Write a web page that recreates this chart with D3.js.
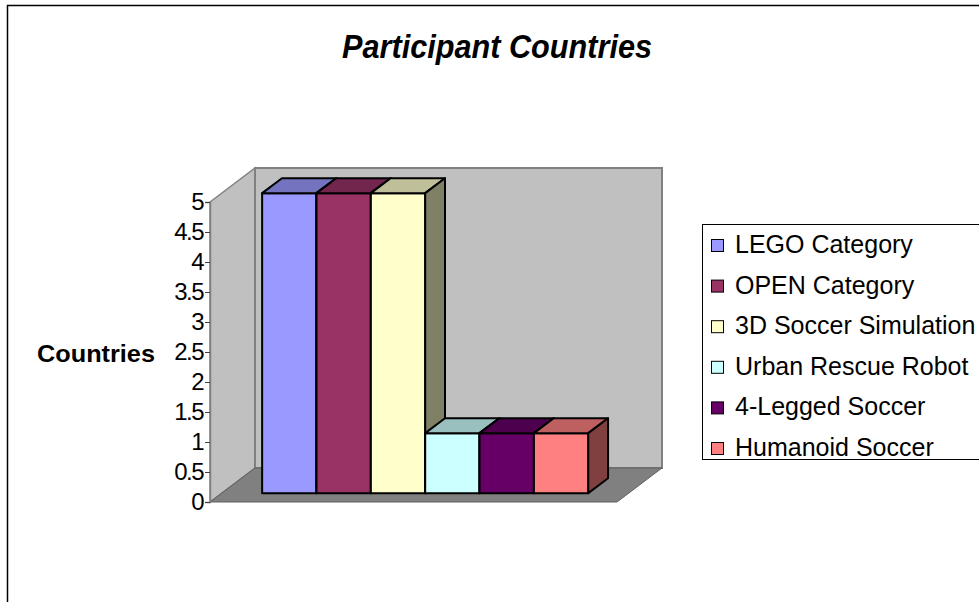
<!DOCTYPE html>
<html>
<head>
<meta charset="utf-8">
<script src="https://cdn.jsdelivr.net/npm/d3@7"></script>
<style>
  body { margin: 0; background: #fff; }
  text { font-family: "Liberation Sans", Arial, sans-serif; }
</style>
</head>
<body>
<div id="chart"></div>
<script>
var category = "Countries";
var seriesNames = ["LEGO Category", "OPEN Category", "3D Soccer Simulation",
                   "Urban Rescue Robot", "4-Legged Soccer", "Humanoid Soccer"];
var seriesValues = [5, 5, 5, 1, 1, 1];
var seriesColors = ["#9999FF", "#993366", "#FFFFCC", "#CCFFFF", "#660066", "#FF8080"];
var tickValues = [0, 0.5, 1, 1.5, 2, 2.5, 3, 3.5, 4, 4.5, 5];
var tickLabels = ["0", "0.5", "1", "1.5", "2", "2.5", "3", "3.5", "4", "4.5", "5"];

var width = 979, height = 602;

var svg = d3.select("#chart").append("svg")
    .attr("width", width)
    .attr("height", height);

// outer chart border
svg.append("rect")
    .attr("x", 7.5).attr("y", 5.5)
    .attr("width", 1000).attr("height", 700)
    .attr("fill", "#fff")
    .attr("stroke", "#000")
    .attr("stroke-width", 1.5);

svg.append("text")
    .attr("x", 497).attr("y", 58)
    .attr("text-anchor", "middle")
    .attr("font-size", 33)
    .attr("font-weight", "bold")
    .attr("font-style", "italic")
    .attr("textLength", 310)
    .attr("lengthAdjust", "spacingAndGlyphs")
    .text("Participant Countries");

// front plane scales, depth handled by offset
var plotLeft = 210, plotRight = 617;
var depthX = 45, depthY = -34;
var y = d3.scaleLinear().domain([0, 5]).range([502, 202]);
var x0 = d3.scaleBand().domain([category]).range([plotLeft, plotRight])
    .paddingInner(0).paddingOuter(0.124);
var x1 = d3.scaleBand().domain(seriesNames).range([0, x0.bandwidth()]);

function proj(px, py, f) {
  return [px + f * depthX, py + f * depthY];
}
function poly(pts) {
  return pts.map(function(p) { return p.join(","); }).join(" ");
}

var yMin = y.domain()[0], yMax = y.domain()[1];

// left wall
svg.append("polygon")
    .attr("points", poly([proj(plotLeft, y(yMin), 0), proj(plotLeft, y(yMax), 0),
                          proj(plotLeft, y(yMax), 1), proj(plotLeft, y(yMin), 1)]))
    .attr("fill", "#C0C0C0").attr("stroke", "#808080").attr("stroke-width", 1.5);

// back wall
svg.append("polygon")
    .attr("points", poly([proj(plotLeft, y(yMin), 1), proj(plotLeft, y(yMax), 1),
                          proj(plotRight, y(yMax), 1), proj(plotRight, y(yMin), 1)]))
    .attr("fill", "#C0C0C0").attr("stroke", "#808080").attr("stroke-width", 2);

// floor
svg.append("polygon")
    .attr("points", poly([proj(plotLeft, y(yMin), 0), proj(plotRight, y(yMin), 0),
                          proj(plotRight, y(yMin), 1), proj(plotLeft, y(yMin), 1)]))
    .attr("fill", "#808080").attr("stroke", "#606060").attr("stroke-width", 1);

// axis
var axis = svg.append("g")
    .attr("transform", "translate(" + plotLeft + ",0)")
    .call(d3.axisLeft(y).tickValues(tickValues).tickSize(5).tickPadding(2)
          .tickFormat(function(d, i) { return tickLabels[i]; }));
axis.select(".domain").attr("stroke", "#808080").attr("stroke-width", 1.5);
axis.selectAll(".tick line").attr("stroke", "#404040");
axis.selectAll(".tick text")
    .attr("font-size", 24)
    .attr("letter-spacing", -1.5)
    .attr("fill", "#000")
    .style("font-family", "'Liberation Sans', Arial, sans-serif");

svg.append("text")
    .attr("x", 96).attr("y", 362)
    .attr("text-anchor", "middle")
    .attr("font-size", 24)
    .attr("font-weight", "bold")
    .attr("textLength", 118)
    .attr("lengthAdjust", "spacingAndGlyphs")
    .text("Countries");

// 3d bars
var f0 = 0.26, f1 = 0.70;
var bars = svg.selectAll(".bar")
    .data(seriesNames)
  .enter().append("g")
    .attr("class", "bar");

bars.each(function(name, i) {
  var g = d3.select(this);
  var xl = x0(category) + x1(name), xr = xl + x1.bandwidth();
  var yt = y(seriesValues[i]), yb = y(0);
  var c = d3.color(seriesColors[i]);
  var shade = function(k) { return d3.rgb(c.r * k, c.g * k, c.b * k); };
  g.append("polygon")
      .attr("points", poly([proj(xl, yb, f0), proj(xl, yt, f0), proj(xr, yt, f0), proj(xr, yb, f0)]))
      .attr("fill", c);
  g.append("polygon")
      .attr("points", poly([proj(xl, yt, f0), proj(xl, yt, f1), proj(xr, yt, f1), proj(xr, yt, f0)]))
      .attr("fill", shade(0.75));
  g.append("polygon")
      .attr("points", poly([proj(xr, yb, f0), proj(xr, yt, f0), proj(xr, yt, f1), proj(xr, yb, f1)]))
      .attr("fill", shade(0.5));
  g.selectAll("polygon")
      .attr("stroke", "#000")
      .attr("stroke-width", 2)
      .attr("stroke-linejoin", "round");
});

// legend
var legend = svg.append("g").attr("transform", "translate(702,224)");
legend.append("rect")
    .attr("x", 0.5).attr("y", 0.5)
    .attr("width", 300).attr("height", 235)
    .attr("fill", "#fff")
    .attr("stroke", "#000")
    .attr("stroke-width", 1);

var item = legend.selectAll(".item")
    .data(seriesNames)
  .enter().append("g")
    .attr("class", "item")
    .attr("transform", function(d, i) { return "translate(0," + (21 + i * 40.6) + ")"; });

item.append("rect")
    .attr("x", 9.5).attr("y", -5.5)
    .attr("width", 12).attr("height", 12)
    .attr("fill", function(d, i) { return seriesColors[i]; })
    .attr("stroke", "#000");

item.append("text")
    .attr("x", 33).attr("y", 8)
    .attr("font-size", 25)
    .text(function(d) { return d; });
</script>
</body>
</html>
